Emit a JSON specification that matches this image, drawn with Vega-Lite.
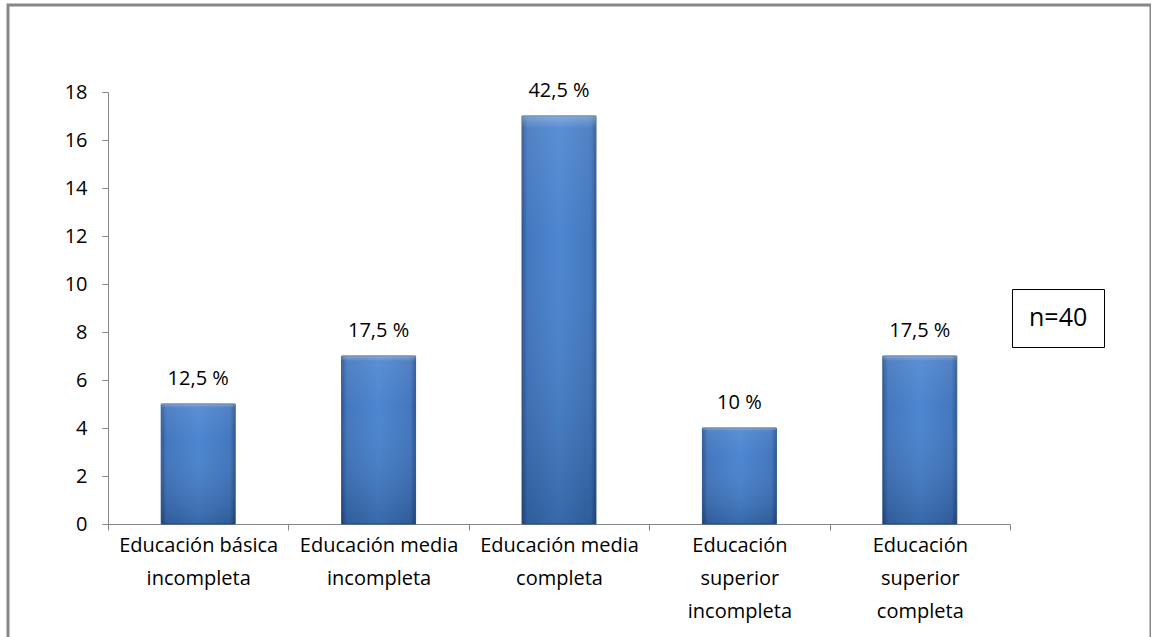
{
  "$schema": "https://vega.github.io/schema/vega-lite/v6.json",
  "width": 1143,
  "height": 640,
  "autosize": {"type": "none"},
  "padding": {"left": 8, "top": 5, "right": 0, "bottom": 0},
  "background": "white",
  "config": {
    "view": {"stroke": "#878787", "strokeWidth": 3},
    "font": "Open Sans",
    "axis": {"grid": false, "domainColor": "#868686", "tickColor": "#868686", "labelColor": "#000000", "labelFont": "Open Sans", "labelFontSize": 20, "title": null}
  },
  "data": {
    "values": [
      {"nivel": "Educación básica incompleta", "frecuencia": 5, "pct": "12,5 %"},
      {"nivel": "Educación media incompleta", "frecuencia": 7, "pct": "17,5 %"},
      {"nivel": "Educación media completa", "frecuencia": 17, "pct": "42,5 %"},
      {"nivel": "Educación superior incompleta", "frecuencia": 4, "pct": "10 %"},
      {"nivel": "Educación superior completa", "frecuencia": 7, "pct": "17,5 %"}
    ]
  },
  "encoding": {
    "x": {
      "field": "nivel", "type": "nominal", "sort": null,
      "scale": {"range": [100, 1002], "paddingInner": 0, "paddingOuter": 0},
      "axis": {
        "orient": "bottom", "offset": -121, "tickBand": "extent", "tickSize": 6, "labelPadding": 5,
        "labelAngle": 0, "labelLineHeight": 33, "labelOverlap": false, "labelBound": false, "labelFlush": false,
        "labelExpr": "!datum.label ? '' : datum.label == 'Educación básica incompleta' ? ['Educación básica','incompleta'] : datum.label == 'Educación media incompleta' ? ['Educación media','incompleta'] : datum.label == 'Educación media completa' ? ['Educación media','completa'] : datum.label == 'Educación superior incompleta' ? ['Educación','superior','incompleta'] : datum.label == 'Educación superior completa' ? ['Educación','superior','completa'] : ''"
      }
    },
    "y": {
      "field": "frecuencia", "type": "quantitative",
      "scale": {"domain": [0, 18], "range": [519, 87], "nice": false},
      "axis": {"orient": "left", "offset": -100, "values": [0, 2, 4, 6, 8, 10, 12, 14, 16, 18], "tickSize": 6, "labelPadding": 15}
    }
  },
  "layer": [
    {
      "mark": {
        "type": "bar", "width": {"band": 0.41},
        "stroke": "#2a5590", "strokeWidth": 1,
        "color": {"gradient": "linear", "x1": 0, "x2": 1, "y1": 0, "y2": 0,
          "stops": [
            {"offset": 0, "color": "#244f8c"},
            {"offset": 0.07, "color": "#3a70bb"},
            {"offset": 0.5, "color": "#4380cf"},
            {"offset": 0.93, "color": "#3a70bb"},
            {"offset": 1, "color": "#244f8c"}
          ]}
      }
    },
    {
      "mark": {
        "type": "bar", "width": {"band": 0.41},
        "color": {"gradient": "linear", "x1": 0, "x2": 0, "y1": 0, "y2": 1,
          "stops": [
            {"offset": 0, "color": "rgba(255,255,255,0.35)"},
            {"offset": 0.03, "color": "rgba(255,255,255,0.12)"},
            {"offset": 0.3, "color": "rgba(255,255,255,0.05)"},
            {"offset": 1, "color": "rgba(0,0,0,0.18)"}
          ]}
      }
    },
    {
      "mark": {"type": "text", "baseline": "middle", "dy": -25, "fontSize": 20, "font": "Open Sans", "color": "#000000"},
      "encoding": {"text": {"field": "pct", "type": "nominal"}}
    },
    {
      "data": {"values": [{"n": "n=40"}]},
      "mark": {"type": "point", "opacity": 0},
      "encoding": {
        "x": null, "y": null,
        "shape": {
          "field": "n", "type": "nominal",
          "legend": {
            "orient": "none", "legendX": 1004, "legendY": 284, "title": null,
            "strokeColor": "#000000", "padding": 16, "symbolSize": 0, "symbolOpacity": 0, "symbolStrokeWidth": 0,
            "labelOffset": -24, "labelFontSize": 25, "labelFont": "Open Sans", "labelColor": "#000000"
          }
        }
      }
    }
  ]
}
